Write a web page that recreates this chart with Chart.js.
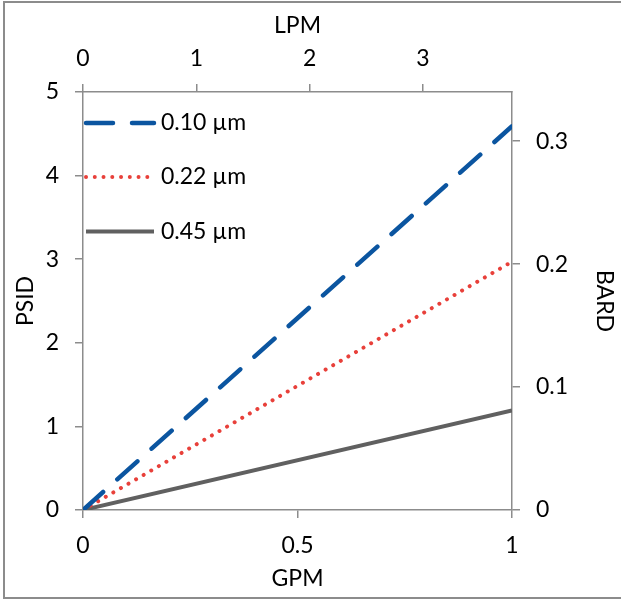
<!DOCTYPE html>
<html>
<head>
<meta charset="utf-8">
<script src="https://cdn.jsdelivr.net/npm/chart.js@4/dist/chart.umd.min.js"></script>
<style>
  html, body { margin: 0; padding: 0; background: #fff; }
  #wrap { position: relative; width: 621px; height: 599px; overflow: hidden; }
  #frame { position: absolute; left: 3px; top: 1px; width: 640px; height: 594px;
           border: 2px solid #8c8c8c; border-right: none; box-sizing: content-box; pointer-events: none; }
  canvas { position: absolute; left: 0; top: 0; }
</style>
</head>
<body>
<div id="wrap">
  <canvas id="c" width="621" height="599"></canvas>
  <div id="frame"></div>
</div>
<script>
// ---- data ----
const GPM = [0, 1];
const PSID_010 = [0, 4.59];
const PSID_022 = [0, 2.97];
const PSID_045 = [0, 1.19];
const SERIES_LABELS = ['0.10 µm', '0.22 µm', '0.45 µm'];
const GPM_TICKS = [0, 0.5, 1];
const LPM_TICKS = [0, 1, 2, 3];
const PSID_TICKS = [0, 1, 2, 3, 4, 5];
const BARD_TICKS = [0, 0.1, 0.2, 0.3];
const LPM_MAX = 3.785;
const BARD_MAX = 0.34;

const FONT = { family: 'Lato', size: 23 };
const AXIS = '#8c8c8c';
const TXT = '#000000';

function pts(xs, ys) { return xs.map((x, i) => ({ x: x, y: ys[i] })); }

const legendPlugin = {
  id: 'inlineLegend',
  afterDraw(chart) {
    const ctx = chart.ctx;
    const ca = chart.chartArea;
    const x0 = ca.left + 3, x1 = ca.left + 71;
    const ys = [ca.top + 31, ca.top + 85, ca.top + 139.5];
    chart.data.datasets.forEach((ds, i) => {
      const y = ys[i];
      ctx.save();
      ctx.strokeStyle = ds.borderColor;
      ctx.lineWidth = ds.borderWidth;
      ctx.lineCap = ds.borderCapStyle || 'butt';
      ctx.setLineDash(ds.borderDash || []);
      ctx.beginPath();
      ctx.moveTo(x0, y);
      ctx.lineTo(x1, y);
      ctx.stroke();
      ctx.restore();
      ctx.save();
      ctx.fillStyle = TXT;
      ctx.font = FONT.size + 'px ' + FONT.family;
      ctx.textBaseline = 'middle';
      ctx.textAlign = 'left';
      ctx.fillText(ds.label, ca.left + 78, y);
      ctx.restore();
    });
  }
};

function setTicks(arr) { return function(s) { s.ticks = arr.map(v => ({ value: v })); }; }

const chart = new Chart(document.getElementById('c'), {
  type: 'line',
  data: {
    datasets: [
      { label: SERIES_LABELS[0], data: pts(GPM, PSID_010), borderColor: '#0b55a0', borderWidth: 4.5,
        borderDash: [27, 19], borderCapStyle: 'round', pointRadius: 0, xAxisID: 'x', yAxisID: 'y' },
      { label: SERIES_LABELS[1], data: pts(GPM, PSID_022), borderColor: '#e8403a', borderWidth: 4,
        borderDash: [0.01, 8.75], borderCapStyle: 'round', pointRadius: 0, xAxisID: 'x', yAxisID: 'y' },
      { label: SERIES_LABELS[2], data: pts(GPM, PSID_045), borderColor: '#606060', borderWidth: 4,
        borderDash: [], borderCapStyle: 'butt', pointRadius: 0, xAxisID: 'x', yAxisID: 'y' }
    ]
  },
  options: {
    responsive: false,
    animation: false,
    devicePixelRatio: 1,
    layout: { padding: 0 },
    plugins: { legend: { display: false }, tooltip: { enabled: false } },
    scales: {
      x: {
        type: 'linear', position: 'bottom', min: 0, max: 1,
        afterBuildTicks: setTicks(GPM_TICKS),
        afterFit: s => { s.height = 89; },
        grid: { drawOnChartArea: false, drawTicks: true, tickLength: 8, color: AXIS, lineWidth: 1.5 },
        border: { display: true, color: AXIS, width: 1.5 },
        ticks: { font: FONT, color: TXT, padding: 14, maxRotation: 0, callback: v => String(v) },
        title: { display: true, text: 'GPM', font: FONT, color: TXT, padding: { top: 0, bottom: 7 } }
      },
      x2: {
        type: 'linear', position: 'top', min: 0, max: LPM_MAX,
        afterBuildTicks: setTicks(LPM_TICKS),
        afterFit: s => { s.height = 92; },
        grid: { drawOnChartArea: false, drawTicks: true, tickLength: 8, color: AXIS, lineWidth: 1.5 },
        border: { display: true, color: AXIS, width: 1.5 },
        ticks: { font: FONT, color: TXT, padding: 12, maxRotation: 0, callback: v => String(v) },
        title: { display: true, text: 'LPM', font: FONT, color: TXT, padding: { top: 12, bottom: 0 } }
      },
      y: {
        type: 'linear', position: 'left', min: 0, max: 5,
        afterBuildTicks: setTicks(PSID_TICKS),
        afterFit: s => { s.width = 83; },
        grid: { drawOnChartArea: false, drawTicks: true, tickLength: 8, color: AXIS, lineWidth: 1.5 },
        border: { display: true, color: AXIS, width: 1.5 },
        ticks: { font: FONT, color: TXT, padding: 16, callback: v => String(v) },
        title: { display: true, text: 'PSID', font: FONT, color: TXT, padding: { top: 12, bottom: 0 } }
      },
      y2: {
        type: 'linear', position: 'right', min: 0, max: BARD_MAX,
        afterBuildTicks: setTicks(BARD_TICKS),
        afterFit: s => { s.width = 109; },
        grid: { drawOnChartArea: false, drawTicks: true, tickLength: 8, color: AXIS, lineWidth: 1.5 },
        border: { display: true, color: AXIS, width: 1.5 },
        ticks: { font: FONT, color: TXT, padding: 16, callback: v => String(Math.round(v * 10) / 10) },
        title: { display: true, text: 'BARD', font: FONT, color: TXT, padding: { top: 3, bottom: 0 } }
      }
    }
  },
  plugins: [legendPlugin]
});
</script>
</body>
</html>
